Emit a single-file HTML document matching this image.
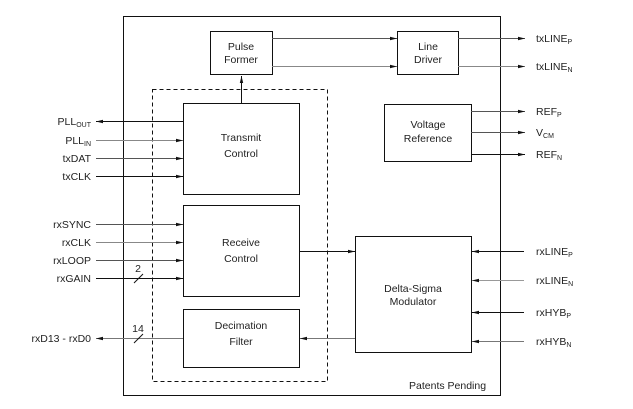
<!DOCTYPE html>
<html><head><meta charset="utf-8"><style>
html,body{margin:0;padding:0;background:#fff;}
svg{display:block;}
text{font-family:"Liberation Sans",Arial,sans-serif;font-size:10.5px;fill:#222;}
</style></head><body>
<svg width="633" height="409" viewBox="0 0 633 409" xmlns="http://www.w3.org/2000/svg">
<defs>
<marker id="a" markerWidth="7" markerHeight="5" refX="7" refY="2.5" orient="auto" markerUnits="userSpaceOnUse">
<path d="M0,0.8 L7,2.5 L0,4.2 Z" fill="#111"/></marker>
</defs>
<g fill="none" stroke="#111" stroke-width="1">
<rect x="123.5" y="16.5" width="377" height="379"/>
<rect x="152.5" y="89.5" width="175" height="292" stroke-dasharray="4,3"/>
<rect x="210.5" y="31.5" width="62" height="43"/>
<rect x="183.5" y="103.5" width="116" height="91"/>
<rect x="183.5" y="205.5" width="116" height="91"/>
<rect x="183.5" y="309.5" width="116" height="58"/>
<rect x="397.5" y="31.5" width="61" height="43"/>
<rect x="384.5" y="104.5" width="87" height="57"/>
<rect x="355.5" y="236.5" width="116" height="116"/>
</g>
<g stroke-width="1" marker-end="url(#a)">
<line x1="272" y1="38.5" x2="397" y2="38.5" stroke="#555"/>
<line x1="272" y1="66.5" x2="397" y2="66.5" stroke="#888"/>
<line x1="458" y1="38.5" x2="525" y2="38.5" stroke="#555"/>
<line x1="458" y1="66.5" x2="525" y2="66.5" stroke="#888"/>
<line x1="471" y1="111.5" x2="525" y2="111.5" stroke="#555"/>
<line x1="471" y1="132.5" x2="525" y2="132.5" stroke="#555"/>
<line x1="471" y1="154.5" x2="525" y2="154.5" stroke="#111"/>
<line x1="241.5" y1="103" x2="241.5" y2="76" stroke="#111"/>
<line x1="183" y1="121.5" x2="96" y2="121.5" stroke="#111"/>
<line x1="96" y1="140.5" x2="183" y2="140.5" stroke="#888"/>
<line x1="96" y1="158.5" x2="183" y2="158.5" stroke="#555"/>
<line x1="96" y1="176.5" x2="183" y2="176.5" stroke="#111"/>
<line x1="96" y1="224.5" x2="183" y2="224.5" stroke="#555"/>
<line x1="96" y1="242.5" x2="183" y2="242.5" stroke="#888"/>
<line x1="96" y1="260.5" x2="183" y2="260.5" stroke="#555"/>
<line x1="96" y1="278.5" x2="183" y2="278.5" stroke="#111"/>
<line x1="183" y1="338.5" x2="96" y2="338.5" stroke="#777"/>
<line x1="299" y1="251.5" x2="355" y2="251.5" stroke="#111"/>
<line x1="355" y1="338.5" x2="300" y2="338.5" stroke="#777"/>
<line x1="524" y1="251.5" x2="472" y2="251.5" stroke="#111"/>
<line x1="524" y1="280.5" x2="472" y2="280.5" stroke="#999"/>
<line x1="524" y1="312.5" x2="472" y2="312.5" stroke="#111"/>
<line x1="524" y1="341.5" x2="472" y2="341.5" stroke="#777"/>
</g>
<g stroke="#111">
<line x1="134" y1="283" x2="143" y2="274"/>
<line x1="134" y1="343" x2="143" y2="334"/>
</g>
<text x="138" y="272" text-anchor="middle">2</text>
<text x="138" y="332" text-anchor="middle">14</text>
<g text-anchor="middle">
<text x="241" y="50">Pulse</text><text x="241" y="63">Former</text>
<text x="241" y="141">Transmit</text><text x="241" y="157">Control</text>
<text x="241" y="246">Receive</text><text x="241" y="262">Control</text>
<text x="241" y="329">Decimation</text><text x="241" y="345">Filter</text>
<text x="428" y="50">Line</text><text x="428" y="63">Driver</text>
<text x="428" y="128">Voltage</text><text x="428" y="142">Reference</text>
<text x="413" y="292">Delta-Sigma</text><text x="413" y="305">Modulator</text>
</g>
<text x="409" y="389">Patents Pending</text>
<g text-anchor="end">
<text x="91" y="125">PLL<tspan font-size="7" dy="2">OUT</tspan></text>
<text x="91" y="144">PLL<tspan font-size="7" dy="2">IN</tspan></text>
<text x="91" y="162">txDAT</text>
<text x="91" y="180">txCLK</text>
<text x="91" y="228">rxSYNC</text>
<text x="91" y="246">rxCLK</text>
<text x="91" y="264">rxLOOP</text>
<text x="91" y="282">rxGAIN</text>
<text x="91" y="342">rxD13 - rxD0</text>
</g>
<g>
<text x="536" y="42">txLINE<tspan font-size="7" dy="2">P</tspan></text>
<text x="536" y="70">txLINE<tspan font-size="7" dy="2">N</tspan></text>
<text x="536" y="115">REF<tspan font-size="7" dy="2">P</tspan></text>
<text x="536" y="136">V<tspan font-size="7" dy="2">CM</tspan></text>
<text x="536" y="158">REF<tspan font-size="7" dy="2">N</tspan></text>
<text x="536" y="255">rxLINE<tspan font-size="7" dy="2">P</tspan></text>
<text x="536" y="284">rxLINE<tspan font-size="7" dy="2">N</tspan></text>
<text x="536" y="316">rxHYB<tspan font-size="7" dy="2">P</tspan></text>
<text x="536" y="345">rxHYB<tspan font-size="7" dy="2">N</tspan></text>
</g>
</svg>
</body></html>
